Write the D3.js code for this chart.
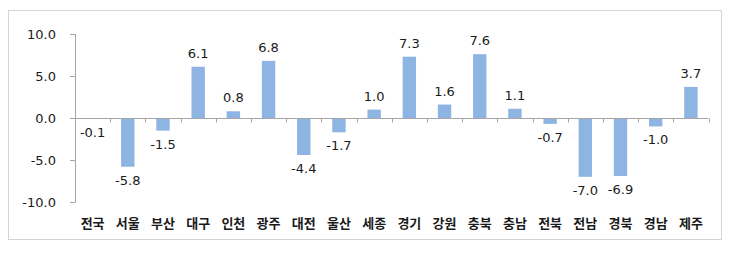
<!DOCTYPE html>
<html>
<head>
<meta charset="utf-8">
<script src="https://cdn.jsdelivr.net/npm/d3@7"></script>
<style>
  body { margin: 0; background: #fff; }
  .num { font-family: "DejaVu Sans", sans-serif; font-size: 13px; fill: #1a1a1a; }
  .cat { font-family: "Noto Sans CJK KR", sans-serif; font-size: 13px; font-weight: bold; fill: #1a1a1a; }
</style>
</head>
<body>
<div id="chart"></div>
<script>
// Data
const regions = ["전국", "서울", "부산", "대구", "인천", "광주", "대전", "울산", "세종",
                 "경기", "강원", "충북", "충남", "전북", "전남", "경북", "경남", "제주"];
const values = [-0.1, -5.8, -1.5, 6.1, 0.8, 6.8, -4.4, -1.7, 1.0,
                7.3, 1.6, 7.6, 1.1, -0.7, -7.0, -6.9, -1.0, 3.7];
const yTicks = [10, 5, 0, -5, -10];

const W = 736, H = 254;
const svg = d3.select("#chart").append("svg")
  .attr("width", W)
  .attr("height", H);

// outer frame
svg.append("rect")
  .attr("x", 8.5).attr("y", 10.5)
  .attr("width", 713).attr("height", 229)
  .attr("fill", "none")
  .attr("stroke", "#d4d4d4");

const x = d3.scaleBand()
  .domain(regions)
  .range([75, 708.5])
  .padding(0);

const y = d3.scaleLinear()
  .domain([-10, 10])
  .range([202, 34]);

const barW = x.bandwidth() * 0.38;

// bars
svg.selectAll("rect.bar")
  .data(values)
  .join("rect")
  .attr("class", "bar")
  .attr("x", (d, i) => x(regions[i]) + x.bandwidth() / 2 - barW / 2)
  .attr("y", d => y(Math.max(0, d)))
  .attr("width", barW)
  .attr("height", d => Math.abs(y(d) - y(0)))
  .attr("fill", "#8db4e2");

// y axis
const axisColor = "#a6a6a6";
svg.append("line")
  .attr("x1", 75.5).attr("x2", 75.5)
  .attr("y1", y(10)).attr("y2", y(-10))
  .attr("stroke", axisColor);

svg.selectAll("line.ytick")
  .data(yTicks)
  .join("line")
  .attr("class", "ytick")
  .attr("x1", 70).attr("x2", 75.5)
  .attr("y1", d => Math.round(y(d)) + 0.5)
  .attr("y2", d => Math.round(y(d)) + 0.5)
  .attr("stroke", axisColor);

svg.selectAll("text.ylab")
  .data(yTicks)
  .join("text")
  .attr("class", "num ylab")
  .attr("x", 56)
  .attr("y", d => y(d))
  .attr("dy", "0.36em")
  .attr("text-anchor", "end")
  .text(d => d.toFixed(1));

// x axis at zero
const y0 = Math.round(y(0)) + 0.5;
svg.append("line")
  .attr("x1", 75.5).attr("x2", x.range()[1])
  .attr("y1", y0).attr("y2", y0)
  .attr("stroke", axisColor);

const bounds = regions.map(r => x(r)).concat([x.range()[1]]);
svg.selectAll("line.xtick")
  .data(bounds)
  .join("line")
  .attr("class", "xtick")
  .attr("x1", d => Math.round(d) + 0.5)
  .attr("x2", d => Math.round(d) + 0.5)
  .attr("y1", y0).attr("y2", y0 + 4)
  .attr("stroke", axisColor);

// value labels
svg.selectAll("text.val")
  .data(values)
  .join("text")
  .attr("class", "num val")
  .attr("x", (d, i) => x(regions[i]) + x.bandwidth() / 2)
  .attr("y", d => d >= 0 ? y(d) - 9 : y(d) + 18)
  .attr("text-anchor", "middle")
  .text(d => d.toFixed(1));

// category labels
svg.selectAll("text.cat")
  .data(regions)
  .join("text")
  .attr("class", "cat")
  .attr("x", d => x(d) + x.bandwidth() / 2)
  .attr("y", 228)
  .attr("text-anchor", "middle")
  .text(d => d);
</script>
</body>
</html>
